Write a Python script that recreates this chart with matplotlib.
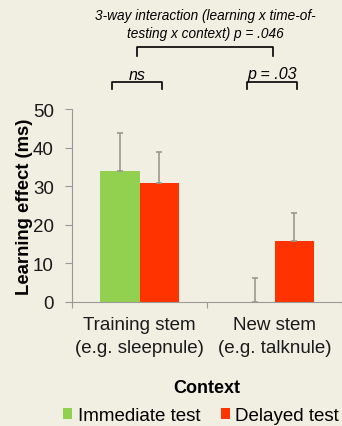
import matplotlib.pyplot as plt
import numpy as np

plt.rcParams['font.family'] = ['Liberation Sans', 'DejaVu Sans']

# data
contexts = ['Training stem\n(e.g. sleepnule)', 'New stem\n(e.g. talknule)']
immediate = [34.0, 0.0]
immediate_err = [9.8, 6.2]
delayed = [30.9, 15.8]
delayed_err = [7.9, 7.2]
series = ['Immediate test', 'Delayed test']

bg = '#f1eee2'
green = '#92d050'
red = '#ff3300'

fig = plt.figure(figsize=(3.42, 4.27), dpi=100, facecolor=bg)
ax = fig.add_axes([72 / 342, 1 - 303 / 427, 1 - 72 / 342, 192.7 / 427], facecolor=bg)

x = np.arange(len(contexts))
w = 0.289
ax.bar(x - w / 2, immediate, w, color=green, label=series[0])
ax.bar(x + w / 2, delayed, w, color=red, label=series[1])
ax.errorbar(x - w / 2, immediate, yerr=[[0, 0], immediate_err], fmt='none',
            ecolor='#9a9a8c', elinewidth=1.2, capsize=2, capthick=1.2)
ax.errorbar(x + w / 2, delayed, yerr=[[0, 0], delayed_err], fmt='none',
            ecolor='#9a9a8c', elinewidth=1.2, capsize=2, capthick=1.2)

ax.set_xlim(-0.5, 1.5)
ax.set_ylim(0, 50)
ax.set_yticks([0, 10, 20, 30, 40, 50])
ax.set_xticks([-0.5, 0.5, 1.5])
ax.set_xticklabels([])
ax.set_xticks(x, minor=True)
ax.set_xticklabels(contexts, minor=True, fontsize=13.5, color='#1a1a1a', linespacing=1.45)
ax.tick_params(axis='x', which='minor', length=0, pad=10)
ax.tick_params(axis='x', which='major', length=4, color='#999999', direction='out')
ax.tick_params(axis='y', length=5, color='#999999', labelsize=13.5, labelcolor='#1a1a1a', pad=8)
for s in ['top', 'right']:
    ax.spines[s].set_visible(False)
for s in ['left', 'bottom']:
    ax.spines[s].set_color('#999999')
ax.set_ylabel('Learning effect (ms)', fontsize=13.3, fontweight='bold', labelpad=0)
ax.set_xlabel('Context', fontsize=13, fontweight='bold', labelpad=17)

# significance annotations
fig.text(205 / 342, 1 - 25 / 427, '3-way interaction (learning x time-of-\ntesting x context) p = .046',
         ha='center', va='center', fontsize=9.8, style='italic', linespacing=1.45)
fig.add_artist(plt.Line2D([137 / 342, 137 / 342, 273 / 342, 273 / 342],
                          [1 - 57 / 427, 1 - 48 / 427, 1 - 48 / 427, 1 - 57 / 427],
                          color='black', lw=1.2))
for x0, x1, lab in [(112, 162, 'ns'), (247, 297, 'p = .03')]:
    fig.add_artist(plt.Line2D([x0 / 342, x0 / 342, x1 / 342, x1 / 342],
                              [1 - 90 / 427, 1 - 83 / 427, 1 - 83 / 427, 1 - 90 / 427],
                              color='black', lw=1.2))
    fig.text((x0 + x1) / 2 / 342, 1 - 75 / 427, lab, ha='center', va='center',
             fontsize=11.5, style='italic')

fig.legend(loc='lower center', bbox_to_anchor=(0.588, -0.036), ncol=2, frameon=False,
           fontsize=13.5, handlelength=0.5, handleheight=0.5, handletextpad=0.28,
           columnspacing=1.1)

fig.savefig('out.png', dpi=100, facecolor=bg)
